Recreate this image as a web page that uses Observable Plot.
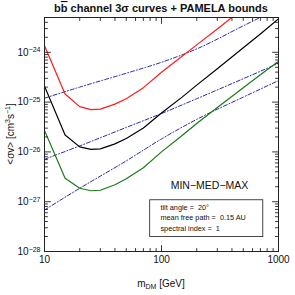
<!DOCTYPE html>
<html><head><meta charset="utf-8">
<script src="https://cdn.jsdelivr.net/npm/d3@7"></script>
<script src="https://cdn.jsdelivr.net/npm/@observablehq/plot@0.6"></script>
<style>body{margin:0;background:#fff}svg{display:block}</style>
</head><body><div id="chart"></div>
<script>
// ---- data ----
const masses = [10, 15, 20, 25, 30, 40, 50, 70, 100, 150, 200, 300, 500, 700, 1000];
const sigmaMin = [2.69e-26, 2.95e-27, 1.86e-27, 1.66e-27, 1.70e-27, 2.19e-27, 2.88e-27, 4.79e-27, 1.00e-26, 2.14e-26, 3.72e-26, 7.76e-26, 1.95e-25, 3.55e-25, 6.61e-25];
const sigmaMed = [2.09e-25, 2.19e-26, 1.26e-26, 1.12e-26, 1.15e-26, 1.45e-26, 1.86e-26, 3.02e-26, 6.03e-26, 1.26e-25, 2.19e-25, 4.68e-25, 1.23e-24, 2.34e-24, 4.68e-24];
const sigmaMax = [1.35e-24, 1.45e-25, 8.13e-26, 7.08e-26, 7.24e-26, 9.12e-26, 1.17e-25, 1.95e-25, 3.98e-25, 8.32e-25, 1.41e-24, 2.95e-24, 7.59e-24, 1.48e-23, 3.0e-23];

const pamelaMass = [10, 20, 50, 100, 200, 500, 1000];
const pamelaUpper = [1.20e-25, 2.0e-25, 3.8e-25, 6.3e-25, 1.17e-24, 3.4e-24, 7.6e-24];
const pamelaMiddle = [7.1e-27, 1.32e-26, 3.1e-26, 5.9e-26, 1.17e-25, 2.95e-25, 6.0e-25];
const pamelaLower = [6.8e-28, 1.86e-27, 6.6e-27, 1.82e-26, 4.5e-26, 1.26e-25, 2.7e-25];

const xTickLabels = [10, 100, 1000];
const yTickLabels = [1e-28, 1e-27, 1e-26, 1e-25, 1e-24];

const titleText = ["b", "b", " channel 3σ curves + PAMELA bounds"];
const boxLines = ["tilt angle =  20°", "mean free path =  0.15 AU", "spectral index =  1"];
const modelLabel = "MIN\u2212MED\u2212MAX";

// ---- tables ----
const curve = (vals) => masses.map((m, i) => ({m, v: vals[i]}));
const pcurve = (vals) => pamelaMass.map((m, i) => ({m, v: vals[i]}));

const W = 295, H = 295, mT = 17, mR = 17, mB = 44, mL = 44;
const yDomain = [1e-28, 5e-24];

// tick positions
const xMinor = [];
for (const d of [10, 100]) for (let k = 2; k <= 9; k++) xMinor.push(d * k);
const yMinor = [];
for (const d of [1e-28, 1e-27, 1e-26, 1e-25, 1e-24]) for (let k = 2; k <= 9; k++) if (d * k <= yDomain[1] * 1.0001) yMinor.push(d * k);

const tickShape = {draw(ctx, l) { ctx.moveTo(0, 0); ctx.lineTo(0, -l); }};
function tickMarks(values, axis, side, len) {
  const rotate = {bottom: 0, top: 180, left: 90, right: -90}[side];
  const o = {frameAnchor: side, length: len, rotate, anchor: "start", shape: tickShape, stroke: "#222", strokeWidth: 0.9};
  if (axis === "x") o.x = d => d; else o.y = d => d;
  return Plot.vector(values, o);
}

const font = "'Liberation Sans', Arial, Helvetica, sans-serif";
const blueDash = {stroke: "#2b2ba0", strokeWidth: 1, strokeDasharray: "4,2,1,2", curve: "monotone-x", clip: true};

const plot = Plot.plot({
  width: W, height: H,
  marginTop: mT, marginRight: mR, marginBottom: mB, marginLeft: mL,
  style: {fontFamily: font, fontSize: "10px", background: "white", color: "#111"},
  x: {type: "log", domain: [10, 1000]},
  y: {type: "log", domain: yDomain},
  marks: [
    Plot.rect([0], {x1: 80, x2: 741, y1: 1.95e-28, y2: 1.07e-27, fill: "white", stroke: "#333", strokeWidth: 0.9}),
    Plot.line(pcurve(pamelaUpper), {x: "m", y: "v", ...blueDash}),
    Plot.line(pcurve(pamelaMiddle), {x: "m", y: "v", ...blueDash}),
    Plot.line(pcurve(pamelaLower), {x: "m", y: "v", ...blueDash}),
    Plot.line(curve(sigmaMax), {x: "m", y: "v", stroke: "#ff1a1a", strokeWidth: 1.2, clip: true}),
    Plot.line(curve(sigmaMed), {x: "m", y: "v", stroke: "#000", strokeWidth: 1.2, clip: true}),
    Plot.line(curve(sigmaMin), {x: "m", y: "v", stroke: "#1a7a1a", strokeWidth: 1.2, clip: true}),
    Plot.text([modelLabel], {x: 257, y: 2.1e-27, text: d => d, fontSize: 10.5, fill: "#111"}),
    Plot.text(boxLines, {x: 98, y: (d, i) => [7.6e-28, 4.7e-28, 2.9e-28][i], text: d => d, textAnchor: "start", fontSize: 7.3, fill: "#111"}),
    Plot.frame({stroke: "#222", strokeWidth: 1}),
    tickMarks(xTickLabels, "x", "bottom", 6), tickMarks(xMinor, "x", "bottom", 3),
    tickMarks(xTickLabels, "x", "top", 6), tickMarks(xMinor, "x", "top", 3),
    tickMarks(yTickLabels, "y", "left", 6), tickMarks(yMinor, "y", "left", 3),
    tickMarks(yTickLabels, "y", "right", 6), tickMarks(yMinor, "y", "right", 3),
    Plot.axisX(xTickLabels, {tickSize: 0, tickPadding: 4, tickFormat: d => String(d), fontSize: 10, label: null}),
    Plot.axisY(yTickLabels, {tickSize: 0, tickPadding: 4, tickFormat: d => "10^" + Math.round(Math.log10(d)), fontSize: 10, label: null})
  ]
});

document.getElementById("chart").appendChild(plot);

const svg = d3.select(plot);
// superscript exponents on y tick labels
svg.selectAll('g[aria-label="y-axis tick label"] text').each(function() {
  const t = d3.select(this);
  const s = t.text();
  const e = s.split("^")[1].replace("-", "\u2212");
  t.text("10");
  t.append("tspan").attr("dy", "-0.45em").attr("font-size", "7px").text(e);
});

const cx = (mL + W - mR) / 2;
// title
const title = svg.append("text").attr("x", cx).attr("y", 12).attr("text-anchor", "middle")
  .attr("font-family", font).attr("font-weight", "bold").attr("font-size", "11px").attr("fill", "#111");
title.append("tspan").text(titleText[0]);
title.append("tspan").style("text-decoration", "overline").text(titleText[1]);
title.append("tspan").text(titleText[2]);

// x label
const xl = svg.append("text").attr("x", cx).attr("y", 287).attr("text-anchor", "middle")
  .attr("font-family", font).attr("font-size", "10px").attr("fill", "#111");
xl.append("tspan").text("m");
xl.append("tspan").attr("font-size", "7px").attr("dy", "2").text("DM");
xl.append("tspan").attr("dy", "-2").text(" [GeV]");

// y label
const yl = svg.append("text").attr("transform", `translate(14,${(mT + H - mB) / 2}) rotate(-90)`)
  .attr("text-anchor", "middle").attr("font-family", font).attr("font-size", "10px").attr("fill", "#111");
yl.append("tspan").text("<σv> [cm");
yl.append("tspan").attr("font-size", "7px").attr("dy", "-4").text("3");
yl.append("tspan").attr("dy", "4").text("s");
yl.append("tspan").attr("font-size", "7px").attr("dy", "-4").text("\u22121");
yl.append("tspan").attr("dy", "4").text("]");
</script>
</body></html>
